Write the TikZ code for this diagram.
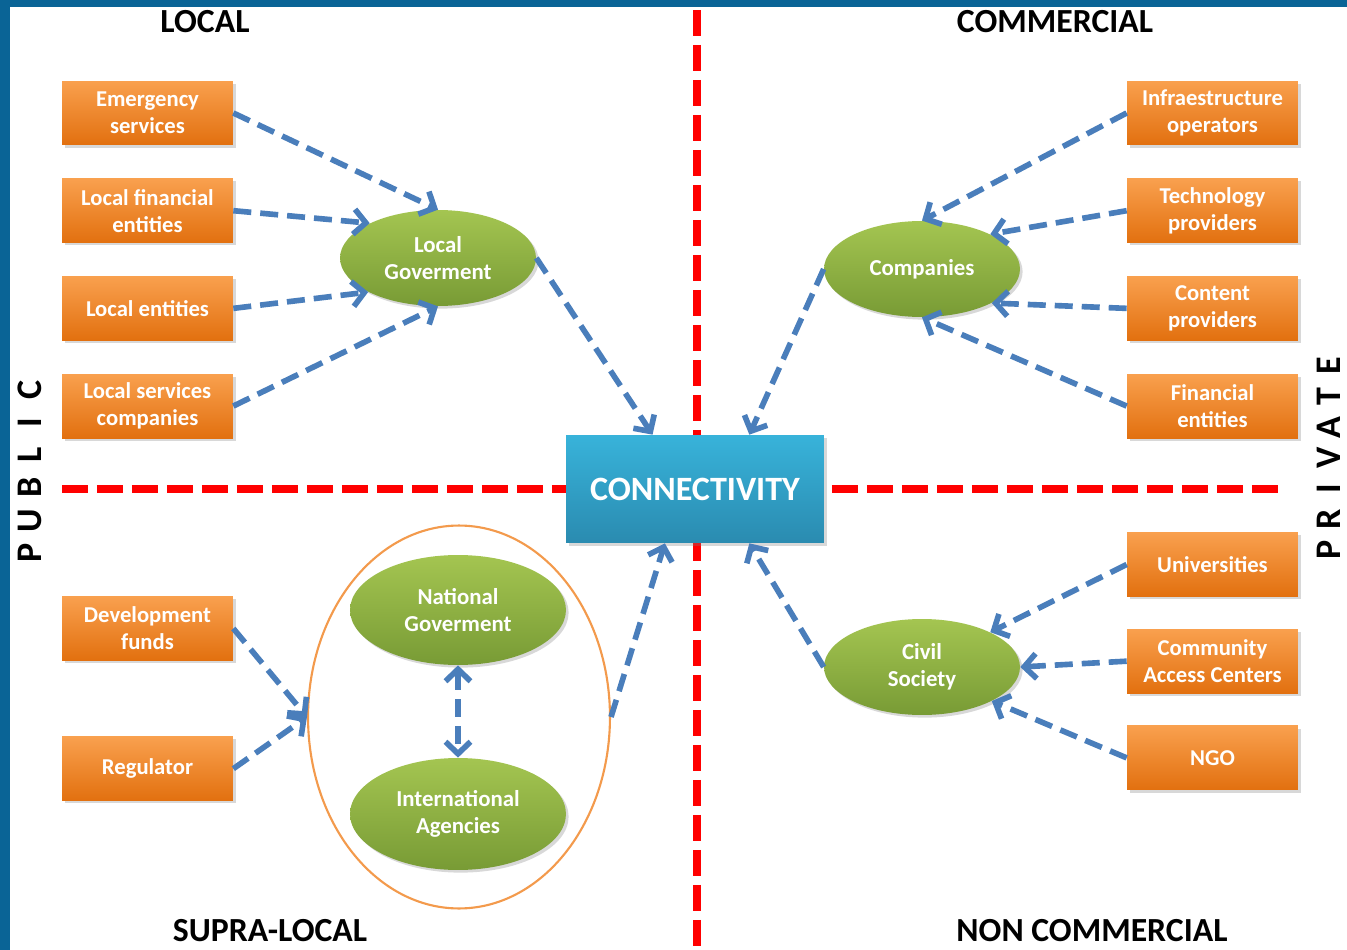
\documentclass[tikz,border=0pt]{standalone}
\usepackage{fontspec}
\setmainfont{Carlito}
\usetikzlibrary{positioning, shapes.geometric, arrows.meta, shadows}
\definecolor{frameblue}{HTML}{0A6496}
\definecolor{boxtop}{HTML}{F9A04E}
\definecolor{boxbot}{HTML}{E2700F}
\definecolor{elltop}{HTML}{A4C551}
\definecolor{ellbot}{HTML}{789B35}
\definecolor{conntop}{HTML}{38B3DA}
\definecolor{connbot}{HTML}{2A8BB0}
\definecolor{arrowblue}{HTML}{4A7EBB}
\definecolor{ringorange}{HTML}{F39A4C}
\definecolor{axisred}{HTML}{FF0000}

\begin{document}
\begin{tikzpicture}[x=0.02cm, y=-0.02cm]
    % Default looks of boxes, ellipses and links
    \tikzstyle{box}=[rectangle, minimum width=3.42cm, minimum height=1.28cm, inner sep=0pt,
        top color=boxtop, bottom color=boxbot, text=white, align=center,
        font=\fontsize{12.9}{15.4}\selectfont\bfseries,
        drop shadow={shadow xshift=1.5pt, shadow yshift=-1.5pt, opacity=0.3}];
    \tikzstyle{actor}=[ellipse, minimum width=3.92cm, minimum height=1.92cm, inner sep=0pt,
        top color=elltop, bottom color=ellbot, text=white, align=center,
        font=\fontsize{13}{15.4}\selectfont\bfseries,
        drop shadow={shadow xshift=1.5pt, shadow yshift=-1.5pt, opacity=0.3}];
    \tikzstyle{title}=[inner sep=0pt, font=\fontsize{19.2}{22}\selectfont\bfseries];
    \tikzstyle{side}=[inner sep=0pt, rotate=90, font=\fontsize{20.5}{24}\selectfont\bfseries];
    \tikzstyle{axis}=[draw=axisred, line width=4.5pt, dash pattern=on 0.52cm off 0.18cm];
    \tikzstyle{link}=[draw=arrowblue, line width=3.2pt, dash pattern=on 0.36cm off 0.18cm,
        -{Straight Barb[length=0.24cm, width=0.5cm]}];

    % Frame and page
    \useasboundingbox (0,0) rectangle (1347,950);
    \fill[frameblue] (0,0) rectangle (1347,950);
    \fill[white] (10,7) rectangle (1347,950);

    % Dashed red axes
    \draw[axis] (697,10) -- (697,950);
    \draw[axis] (62,489) -- (1285,489);

    % Quadrant titles
    \node[title] (tl) at (205,22) {LOCAL};
    \node[title] (tc) at (1055,22) {COMMERCIAL};
    \node[title] (ts) at (270,931) {SUPRA-LOCAL};
    \node[title] (tn) at (1092,931) {NON COMMERCIAL};
    \foreach \l [count=\i] in {P,U,B,L,I,C}
        \node[side] (pub\i) at (30,{553-32.6*(\i-1)}) {\l};
    \foreach \l [count=\i] in {P,R,I,V,A,T,E}
        \node[side] (pri\i) at (1329,{550-30.7*(\i-1)}) {\l};

    % Centre
    \node[rectangle, minimum width=5.16cm, minimum height=2.16cm, inner sep=0pt,
        top color=conntop, bottom color=connbot, text=white,
        font=\fontsize{19.4}{22}\selectfont\bfseries,
        drop shadow={shadow xshift=1.5pt, shadow yshift=-1.5pt, opacity=0.3}]
        (conn) at (695,489) {CONNECTIVITY};

    % Local quadrant
    \node[box] (l1) at (147.5,113) {Emergency\\services};
    \node[box] (l2) [below=0.66cm of l1] {Local financial\\entities};
    \node[box] (l3) [below=0.66cm of l2] {Local entities};
    \node[box] (l4) [below=0.66cm of l3] {Local services\\companies};
    \node[actor] (g1) at (438,258) {Local\\Goverment};

    % Commercial quadrant
    \node[box] (p1) at (1212.5,113) {Infraestructure\\operators};
    \node[box] (p2) [below=0.66cm of p1] {Technology\\providers};
    \node[box] (p3) [below=0.66cm of p2] {Content\\providers};
    \node[box] (p4) [below=0.66cm of p3] {Financial\\entities};
    \node[actor] (g2) at (922,269) {Companies};

    % Supra-local quadrant
    \node[box] (s1) at (147.5,628.5) {Development\\funds};
    \node[box] (s2) [below=1.51cm of s1] {Regulator};
    \node[ellipse, draw=ringorange, line width=1.2pt, minimum width=6.04cm,
        minimum height=7.66cm, inner sep=0pt] (ring) at (459,717) {};
    \node[actor, minimum width=4.32cm, minimum height=2.2cm] (g4) at (458,610) {National\\Goverment};
    \node[actor, minimum width=4.32cm, minimum height=2.24cm] (g5) at (458,814) {International\\Agencies};

    % Non commercial quadrant
    \node[box] (n1) at (1212.5,564.5) {Universities};
    \node[box] (n2) [below=0.64cm of n1] {Community\\Access Centers};
    \node[box] (n3) [below=0.64cm of n2] {NGO};
    \node[actor] (g3) at (922,667) {Civil\\Society};

    % Links
    \draw[link] (l1.east) -- (g1.north);
    \draw[link] (l2.east) -- (g1.153);
    \draw[link] (l3.east) -- (g1.206);
    \draw[link] (l4.east) -- (g1.south);
    \draw[link] (g1.east) -- (conn.128);
    \draw[link] (p1.west) -- (g2.north);
    \draw[link] (p2.west) -- (g2.27);
    \draw[link] (p3.west) -- (g2.-26);
    \draw[link] (p4.west) -- (g2.south);
    \draw[link] (g2.west) -- (conn.45);
    \draw[link] (s1.east) -- (ring.west);
    \draw[link] (s2.east) -- (ring.west);
    \draw[link, {Straight Barb[length=0.24cm, width=0.5cm]}-{Straight Barb[length=0.24cm, width=0.5cm]}]
        (g4.south) -- (g5.north);
    \draw[link] (ring.east) -- (conn.241);
    \draw[link] (n1.west) -- (g3.27);
    \draw[link] (n2.west) -- (g3.east);
    \draw[link] (n3.west) -- (g3.-26);
    \draw[link] (g3.west) -- (conn.-45);
\end{tikzpicture}
\end{document}
